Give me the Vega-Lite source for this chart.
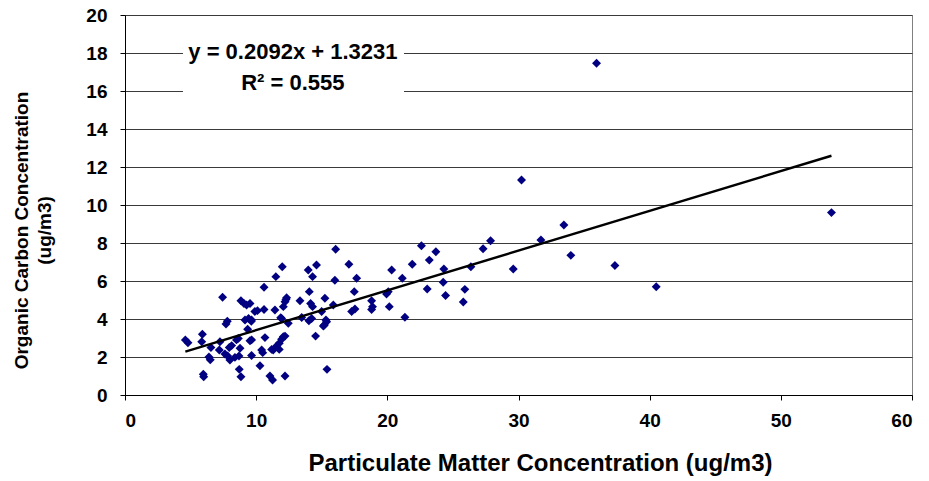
{
  "$schema": "https://vega.github.io/schema/vega-lite/v6.json",
  "autosize": "none",
  "width": 787,
  "height": 380,
  "padding": {"left": 125, "top": 15, "right": 17, "bottom": 86},
  "background": "white",
  "config": {
    "view": {"stroke": "#808080", "strokeWidth": 1},
    "font": "Liberation Sans"
  },
  "datasets": {
    "pts": [
      {"pm": 4.6, "oc": 2.9}, {"pm": 4.8, "oc": 2.75}, {"pm": 5.9, "oc": 3.2}, {"pm": 5.85, "oc": 2.8},
      {"pm": 6.55, "oc": 2.5}, {"pm": 6.4, "oc": 2.0}, {"pm": 6.5, "oc": 1.85}, {"pm": 5.97, "oc": 1.09},
      {"pm": 6.0, "oc": 0.96}, {"pm": 7.24, "oc": 2.8}, {"pm": 7.19, "oc": 2.37}, {"pm": 7.44, "oc": 5.14},
      {"pm": 7.8, "oc": 3.88}, {"pm": 7.7, "oc": 3.74}, {"pm": 7.62, "oc": 2.16}, {"pm": 7.83, "oc": 2.05},
      {"pm": 8.0, "oc": 1.84}, {"pm": 7.95, "oc": 2.5}, {"pm": 8.13, "oc": 2.6}, {"pm": 8.38, "oc": 1.98},
      {"pm": 8.5, "oc": 2.9}, {"pm": 8.64, "oc": 2.98}, {"pm": 8.77, "oc": 2.46}, {"pm": 8.69, "oc": 2.05},
      {"pm": 8.71, "oc": 1.35}, {"pm": 8.84, "oc": 0.96}, {"pm": 8.84, "oc": 4.96}, {"pm": 9.07, "oc": 4.82},
      {"pm": 9.27, "oc": 4.74}, {"pm": 9.53, "oc": 4.82}, {"pm": 9.15, "oc": 3.95}, {"pm": 9.42, "oc": 4.03},
      {"pm": 9.63, "oc": 3.88}, {"pm": 9.35, "oc": 3.46}, {"pm": 9.53, "oc": 2.86}, {"pm": 9.65, "oc": 2.08},
      {"pm": 9.9, "oc": 4.39}, {"pm": 10.1, "oc": 4.44}, {"pm": 10.6, "oc": 5.67}, {"pm": 10.6, "oc": 4.5},
      {"pm": 10.67, "oc": 3.02}, {"pm": 10.42, "oc": 2.37}, {"pm": 10.5, "oc": 2.23}, {"pm": 10.29, "oc": 1.54},
      {"pm": 11.05, "oc": 1.0}, {"pm": 11.25, "oc": 0.79}, {"pm": 11.5, "oc": 6.23}, {"pm": 11.99, "oc": 6.75},
      {"pm": 11.43, "oc": 4.47}, {"pm": 12.07, "oc": 4.65}, {"pm": 12.27, "oc": 5.03}, {"pm": 11.94, "oc": 4.03},
      {"pm": 12.45, "oc": 3.77}, {"pm": 12.2, "oc": 3.1}, {"pm": 11.94, "oc": 2.93}, {"pm": 11.76, "oc": 2.72},
      {"pm": 11.18, "oc": 2.4}, {"pm": 11.76, "oc": 2.4}, {"pm": 12.2, "oc": 1.0}, {"pm": 13.34, "oc": 4.96},
      {"pm": 13.97, "oc": 6.58}, {"pm": 14.3, "oc": 6.23}, {"pm": 14.6, "oc": 6.84}, {"pm": 14.05, "oc": 5.44},
      {"pm": 14.15, "oc": 4.82}, {"pm": 14.3, "oc": 4.65}, {"pm": 14.02, "oc": 3.91}, {"pm": 14.23, "oc": 4.03},
      {"pm": 15.24, "oc": 5.09}, {"pm": 15.2, "oc": 3.68}, {"pm": 15.37, "oc": 3.86}, {"pm": 14.53, "oc": 3.1},
      {"pm": 15.4, "oc": 1.35}, {"pm": 16.06, "oc": 7.67}, {"pm": 17.07, "oc": 6.88}, {"pm": 16.0, "oc": 6.04},
      {"pm": 17.66, "oc": 6.14}, {"pm": 17.48, "oc": 5.44}, {"pm": 15.88, "oc": 4.74}, {"pm": 14.99, "oc": 4.39},
      {"pm": 15.12, "oc": 3.63}, {"pm": 18.8, "oc": 4.96}, {"pm": 18.87, "oc": 4.65}, {"pm": 18.8, "oc": 4.5},
      {"pm": 17.28, "oc": 4.39}, {"pm": 17.53, "oc": 4.53}, {"pm": 20.33, "oc": 6.58}, {"pm": 20.07, "oc": 5.44},
      {"pm": 19.94, "oc": 5.32}, {"pm": 20.15, "oc": 4.65}, {"pm": 21.14, "oc": 6.14}, {"pm": 21.34, "oc": 4.09},
      {"pm": 21.9, "oc": 6.88}, {"pm": 22.6, "oc": 7.86}, {"pm": 23.7, "oc": 7.54}, {"pm": 23.2, "oc": 7.1},
      {"pm": 23.04, "oc": 5.58}, {"pm": 24.31, "oc": 6.63}, {"pm": 24.26, "oc": 5.93}, {"pm": 24.44, "oc": 5.24},
      {"pm": 25.91, "oc": 5.56}, {"pm": 25.79, "oc": 4.89}, {"pm": 26.37, "oc": 6.75}, {"pm": 27.3, "oc": 7.7},
      {"pm": 27.87, "oc": 8.12}, {"pm": 29.6, "oc": 6.63}, {"pm": 35.95, "oc": 17.46}, {"pm": 30.23, "oc": 11.32},
      {"pm": 33.46, "oc": 8.95}, {"pm": 31.71, "oc": 8.16}, {"pm": 33.99, "oc": 7.35}, {"pm": 37.35, "oc": 6.82},
      {"pm": 40.5, "oc": 5.7}, {"pm": 53.86, "oc": 9.6}, {"pm": 12.2, "oc": 4.91}, {"pm": 12.32, "oc": 5.12},
      {"pm": 9.65, "oc": 3.95}, {"pm": 11.87, "oc": 4.07}, {"pm": 13.47, "oc": 4.08}, {"pm": 15.32, "oc": 3.95},
      {"pm": 9.65, "oc": 2.9}, {"pm": 12.07, "oc": 3.07}, {"pm": 11.56, "oc": 2.58}, {"pm": 11.3, "oc": 2.37}
    ],
    "fit": [
      {"pm": 4.6, "oc": 2.285},
      {"pm": 53.86, "oc": 12.591}
    ],
    "box": [
      {"pm": 4.42, "pm2": 21.27, "oc": 15.53, "oc2": 18.68}
    ],
    "label": [
      {"pm": 12.8, "oc": 18.05, "t": "y = 0.2092x + 1.3231"},
      {"pm": 12.8, "oc": 16.4, "t": "R² = 0.555"}
    ]
  },
  "encoding": {
    "x": {
      "field": "pm", "type": "quantitative",
      "scale": {"domain": [0, 60], "nice": false},
      "axis": {
        "values": [0, 10, 20, 30, 40, 50, 60],
        "grid": false,
        "labelOverlap": false,
        "title": "Particulate Matter Concentration (ug/m3)",
        "titleFont": "Liberation Sans", "titleFontSize": 24, "titleFontWeight": "bold", "titleColor": "black",
        "titlePadding": 21, "titleX": 415,
        "labelFont": "Liberation Sans", "labelFontSize": 19, "labelFontWeight": "bold", "labelColor": "black",
        "labelPadding": 11,
        "domainColor": "black", "tickColor": "black", "tickSize": 5
      }
    },
    "y": {
      "field": "oc", "type": "quantitative",
      "scale": {"domain": [0, 20], "nice": false},
      "axis": {
        "values": [0, 2, 4, 6, 8, 10, 12, 14, 16, 18, 20],
        "labelOverlap": false,
        "grid": true, "gridColor": "#3a3a3a", "gridWidth": 1,
        "title": ["Organic Carbon Concentration", "(ug/m3)"],
        "titleFont": "Liberation Sans", "titleFontSize": 19, "titleFontWeight": "bold", "titleColor": "black",
        "titlePadding": 31, "titleLineHeight": 23, "titleY": 215,
        "labelFont": "Liberation Sans", "labelFontSize": 19, "labelFontWeight": "bold", "labelColor": "black",
        "labelPadding": 13,
        "domainColor": "black", "tickColor": "black", "tickSize": 5
      }
    }
  },
  "layer": [
    {
      "data": {"name": "pts"},
      "mark": {"type": "point", "shape": "diamond", "filled": true, "color": "#000080", "size": 80, "opacity": 1}
    },
    {
      "data": {"name": "fit"},
      "mark": {"type": "line", "color": "black", "strokeWidth": 2.4}
    },
    {
      "data": {"name": "box"},
      "mark": {"type": "rect", "fill": "white", "stroke": null},
      "encoding": {
        "x2": {"field": "pm2"},
        "y2": {"field": "oc2"}
      }
    },
    {
      "data": {"name": "label"},
      "mark": {"type": "text", "font": "Liberation Sans", "fontSize": 22, "fontWeight": "bold", "color": "black", "align": "center", "baseline": "middle"},
      "encoding": {
        "text": {"field": "t"}
      }
    }
  ]
}
